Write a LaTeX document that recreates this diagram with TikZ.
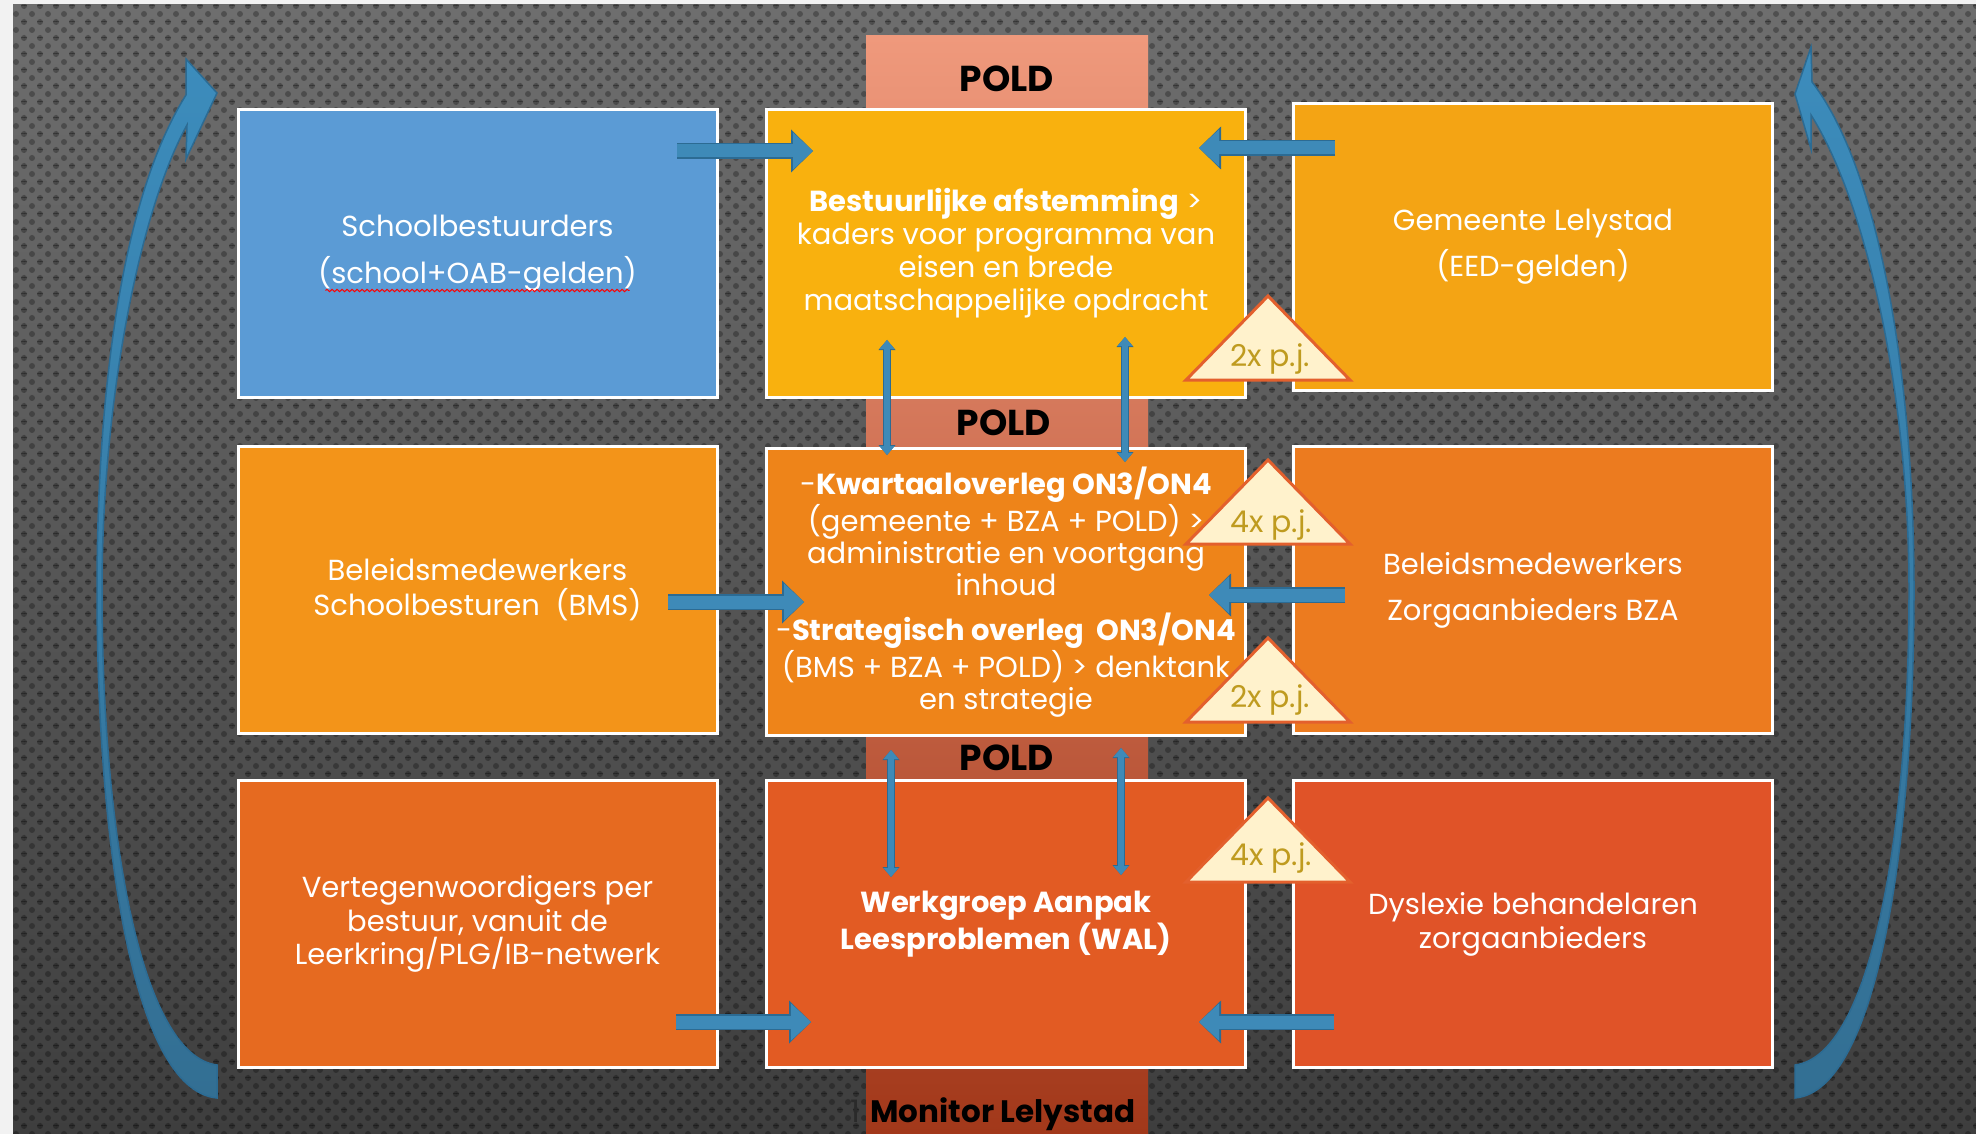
\documentclass[tikz,border=0pt]{standalone}
\usepackage{fontspec}
\setmainfont{Poppins}
\usetikzlibrary{arrows.meta,calc,patterns.meta,decorations.pathmorphing}

\definecolor{marginc}{HTML}{F2F2F2}
\definecolor{bgtop}{HTML}{6E6E6E}
\definecolor{bgbot}{HTML}{3E3E3E}
\definecolor{poldtop}{HTML}{EF997C}
\definecolor{poldmid}{HTML}{DE6035}
\definecolor{poldbot}{HTML}{A2381A}
\definecolor{cA}{HTML}{5B9BD5}
\definecolor{cB}{HTML}{F9B10E}
\definecolor{cC}{HTML}{F4A414}
\definecolor{cD}{HTML}{F39419}
\definecolor{cE}{HTML}{EE8419}
\definecolor{cF}{HTML}{EC7B1F}
\definecolor{cG}{HTML}{E66A20}
\definecolor{cH}{HTML}{E25B23}
\definecolor{cI}{HTML}{E05328}
\definecolor{arrowblue}{HTML}{3E8AB8}
\definecolor{arrowdark}{HTML}{2C6B93}
\definecolor{curvetop}{HTML}{3C8CBC}
\definecolor{curvebot}{HTML}{336F93}
\definecolor{trifill}{HTML}{FFF2CC}
\definecolor{triline}{HTML}{E3602D}
\definecolor{tritext}{HTML}{BF9B1F}

\tikzdeclarepattern{
  name=bgdots,
  type=uncolored,
  bottom left={(-4pt,-4pt)},
  top right={(4pt,4pt)},
  tile size={(8pt,8pt)},
  code={
    \fill (0pt,0pt) circle (1.5pt);
    \fill (-4pt,-4pt) circle (1.5pt);
    \fill (4pt,-4pt) circle (1.5pt);
    \fill (-4pt,4pt) circle (1.5pt);
    \fill (4pt,4pt) circle (1.5pt);
  }
}

\begin{document}
\begin{tikzpicture}[x=0.5pt, y=-0.5pt,
  box/.style={draw=white, line width=1.5pt, minimum width=239.5pt, minimum height=143.5pt,
    inner sep=0pt, outer sep=0pt, text=white, align=center},
  bodyfont/.style={font=\fontsize{14.5}{#1}\selectfont},
  poldlabel/.style={font=\bfseries\fontsize{18}{20}\selectfont, text=black, inner sep=0pt},
  blockarr/.style={draw=arrowblue, line width=6.5pt,
    -{Triangle[length=10pt, width=18.5pt, line width=0pt, fill=arrowblue]},
    preaction={draw=arrowdark, line width=8pt,
      -{Triangle[length=11pt, width=21.5pt, line width=0pt, fill=arrowdark]}}},
  vdbl/.style={draw=arrowblue, line width=2.6pt,
    {Triangle[length=4.5pt, width=7.5pt, line width=0pt, fill=arrowblue]}-{Triangle[length=4.5pt, width=7.5pt, line width=0pt, fill=arrowblue]},
    preaction={draw=arrowdark, line width=3.6pt,
      {Triangle[length=5pt, width=8.5pt, line width=0pt, fill=arrowdark]}-{Triangle[length=5pt, width=8.5pt, line width=0pt, fill=arrowdark]}}},
  curvearrow/.style={top color=curvetop, bottom color=curvebot, draw=arrowdark, line width=0.75pt, line join=miter},
  tristyle/.style={fill=trifill, draw=triline, line width=1.5pt, line join=miter},
  trilabel/.style={text=tritext, font=\fontsize{15}{16}\selectfont, inner sep=0pt}]

\useasboundingbox (0,0) rectangle (1976,1134);
% background
\fill[marginc] (0,0) rectangle (1976,1134);
\shade[top color=bgtop, bottom color=bgbot] (13,5) rectangle (1976,1134);
\path[pattern=bgdots, pattern color=black, opacity=0.28] (13,5) rectangle (1976,1134);

% POLD column
\shade[top color=poldtop, middle color=poldmid, bottom color=poldbot] (866,36) rectangle (1148,1134);

% boxes
\node[box, fill=cA, bodyfont=23.5] (sb) at (477.5,253.5) {Schoolbestuurders\\(school+OAB-gelden)};
\node[box, fill=cB, bodyfont=16.5] (ba) at (1006,253.5) {\textbf{Bestuurlijke afstemming} >\\kaders voor programma van\\eisen en brede\\maatschappelijke opdracht};
\node[box, fill=cC, bodyfont=23] (gl) at (1533,247) {Gemeente Lelystad\\(EED-gelden)};

\node[box, fill=cD, bodyfont=17.5] (bms) at (477.5,590) {Beleidsmedewerkers\\Schoolbesturen~ (BMS)};
\node[box, fill=cE, bodyfont=16.2] (kw) at (1006,592) {-\textbf{Kwartaaloverleg ON3/ON4}\\(gemeente + BZA + POLD) >\\administratie en voortgang\\inhoud\\[6pt]-\textbf{Strategisch overleg~ ON3/ON4}\\(BMS + BZA + POLD) > denktank\\en strategie};
\node[box, fill=cF, bodyfont=23] (bza) at (1533,590) {Beleidsmedewerkers\\Zorgaanbieders BZA};

\node[box, fill=cG, bodyfont=16.75] (vt) at (477.5,924) {Vertegenwoordigers per\\bestuur, vanuit de\\Leerkring/PLG/IB-netwerk};
\node[box, fill=cH, bodyfont=17] (wal) at (1006,924) {\textbf{Werkgroep Aanpak}\\\textbf{Leesproblemen (WAL)}};
\node[box, fill=cI, bodyfont=17] (dy) at (1533,924) {Dyslexie behandelaren\\zorgaanbieders};

% spell-check squiggle
\draw[red, line width=0.5pt, decorate, decoration={snake, amplitude=0.6pt, segment length=2.5pt}]
  ($(sb.center)+(-152,37)$) -- ($(sb.center)+(152,37)$);

% POLD labels
\node[poldlabel] (pold1) at (1007,79) {POLD};
\node[poldlabel] (pold2) at (1004,423) {POLD};
\node[poldlabel] (pold3) at (1007,758) {POLD};
\node[inner sep=0pt, font=\fontsize{15.5}{17}\selectfont] (mon) at (993,1114) {\textcolor[HTML]{2A2A2A}{1}\hspace{5pt}\textbf{Monitor Lelystad}};

% curved side arrows
\path[curvearrow] (186,59) -- (217,93) -- (186,159) -- (187,125)
  .. controls (140,210) and (102,400) .. (102,590)
  .. controls (102,830) and (140,1055) .. (217,1065)
  -- (217,1098)
  .. controls (130,1090) and (97,830) .. (97,590)
  .. controls (97,400) and (120,200) .. (186,95) -- cycle;
\path[curvearrow] (1811,47) -- (1812,82)
  .. controls (1880,170) and (1914,380) .. (1914,590)
  .. controls (1914,830) and (1880,1090) .. (1795,1098)
  -- (1795,1065)
  .. controls (1872,1055) and (1909,830) .. (1909,590)
  .. controls (1909,400) and (1868,205) .. (1811,115)
  -- (1811,149) -- (1795,94) -- cycle;

% block arrows
\draw[blockarr] ($(sb.center)+(199.5,-102.5)$) -- ($(ba.center)+(-193,-102.5)$);
\draw[blockarr] ($(gl.center)+(-198,-99)$) -- ($(ba.center)+(193,-105.5)$);
\draw[blockarr] ($(bms.center)+(190.5,12)$) -- ($(kw.center)+(-202,10)$);
\draw[blockarr] ($(bza.center)+(-188,5)$) -- ($(kw.center)+(203,3)$);
\draw[blockarr] ($(vt.center)+(198.5,98)$) -- ($(wal.center)+(-195,98)$);
\draw[blockarr] ($(dy.center)+(-199,98)$) -- ($(wal.center)+(193,98)$);

% vertical double arrows
\draw[vdbl] ($(ba.center)+(-119,86.5)$) -- ($(kw.center)+(-119,-137)$);
\draw[vdbl] ($(ba.center)+(119,83.5)$) -- ($(kw.center)+(119,-130)$);
\draw[vdbl] ($(kw.center)+(-115,158)$) -- ($(wal.center)+(-115,-47)$);
\draw[vdbl] ($(kw.center)+(115,156)$) -- ($(wal.center)+(115,-49)$);

% frequency triangles
\coordinate (ta1) at (1268,296);
\coordinate (ta2) at (1268,460);
\coordinate (ta3) at (1268,638);
\coordinate (ta4) at (1268,798);
\foreach \t in {ta1,ta2,ta3,ta4}{
  \draw[tristyle] (\t) -- ++(82,84) -- ++(-164,0) -- cycle;
}
\node[trilabel] (t1) at ($(ta1)+(2,63)$) {2x p.j.};
\node[trilabel] (t2) at ($(ta2)+(3,65)$) {4x p.j.};
\node[trilabel] (t3) at ($(ta3)+(2,62)$) {2x p.j.};
\node[trilabel] (t4) at ($(ta4)+(3,60)$) {4x p.j.};
\end{tikzpicture}
\end{document}
